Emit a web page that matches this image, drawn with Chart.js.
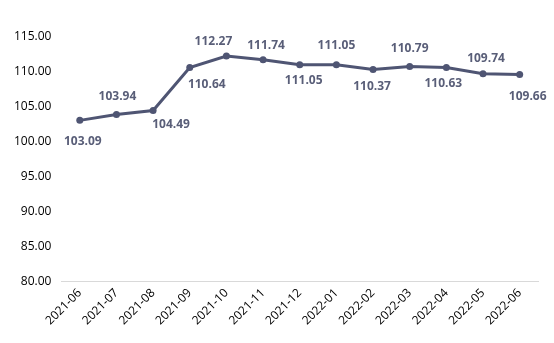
<!DOCTYPE html>
<html>
<head>
<meta charset="utf-8">
<script src="https://cdn.jsdelivr.net/npm/chart.js@4"></script>
<style>
  html, body { margin: 0; padding: 0; background: #fff; }
  #wrap { width: 554px; height: 343px; }
</style>
</head>
<body>
<div id="wrap"><canvas id="indexChart"></canvas></div>
<script>
var months = ['2021-06', '2021-07', '2021-08', '2021-09', '2021-10', '2021-11', '2021-12',
              '2022-01', '2022-02', '2022-03', '2022-04', '2022-05', '2022-06'];
var indexValues = [103.09, 103.94, 104.49, 110.64, 112.27, 111.74, 111.05,
                   111.05, 110.37, 110.79, 110.63, 109.74, 109.66];

// value label placement: vertical offset from the point, plus a nudge sideways
var labelDy = [21, -18, 14, 17, -15, -14, 16, -19, 17, -18, 16, -15, 22];
var labelDx = [3, 1, 18, 17, -13, 3, 4, 0, -1, 0, -3, 3, 8];

var lineColor = '#4f5573';
var fontFamily = "'Open Sans', 'Noto Sans', sans-serif";

var valueLabels = {
    id: 'valueLabels',
    afterDatasetsDraw: function (chart) {
        var ctx = chart.ctx;
        var meta = chart.getDatasetMeta(0);
        ctx.save();
        ctx.font = 'bold 12px ' + fontFamily;
        ctx.fillStyle = '#595e78';
        ctx.textAlign = 'center';
        ctx.textBaseline = 'middle';
        meta.data.forEach(function (pt, i) {
            ctx.fillText(indexValues[i].toFixed(2), pt.x + labelDx[i], pt.y + labelDy[i]);
        });
        ctx.restore();
    }
};

new Chart(document.getElementById('indexChart'), {
    type: 'line',
    data: {
        labels: months,
        datasets: [{
            data: indexValues,
            borderColor: lineColor,
            backgroundColor: lineColor,
            borderWidth: 3,
            pointRadius: 3.5,
            pointBackgroundColor: lineColor,
            pointBorderWidth: 0,
            tension: 0,
            fill: false
        }]
    },
    options: {
        responsive: true,
        maintainAspectRatio: false,
        animation: false,
        layout: { padding: { top: 37, right: 16, left: 4, bottom: 11 } },
        plugins: {
            legend: { display: false },
            tooltip: { enabled: false }
        },
        scales: {
            x: {
                offset: true,
                grid: { display: false, drawTicks: false },
                border: { display: true, color: '#d9d9d9', width: 1 },
                ticks: {
                    color: '#000',
                    font: { family: fontFamily, size: 12 },
                    maxRotation: 45,
                    minRotation: 45,
                    padding: 4
                }
            },
            y: {
                min: 80,
                max: 115,
                grid: { display: false, drawTicks: false },
                border: { display: false },
                ticks: {
                    stepSize: 5,
                    color: '#000',
                    padding: 10,
                    font: { family: fontFamily, size: 12 },
                    callback: function (v) { return v.toFixed(2); }
                }
            }
        }
    },
    plugins: [valueLabels]
});
</script>
</body>
</html>
